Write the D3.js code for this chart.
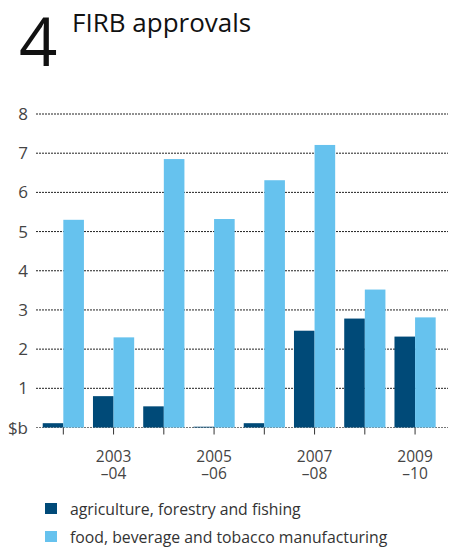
<!DOCTYPE html>
<html>
<head>
<meta charset="utf-8">
<script src="https://cdn.jsdelivr.net/npm/d3@7"></script>
<style>
  body { margin: 0; background: #fff; }
  svg { font-family: "Open Sans", "Noto Sans", sans-serif; }
</style>
</head>
<body>
<div class="chart"></div>
<script>
const periods = ["2002–03","2003–04","2004–05","2005–06","2006–07","2007–08","2008–09","2009–10"]
const seriesNames = ["agriculture, forestry and fishing","food, beverage and tobacco manufacturing"]
const agriculture = [0.11, 0.8, 0.54, 0.02, 0.11, 2.47, 2.78, 2.32]
const food = [5.3, 2.3, 6.85, 5.32, 6.31, 7.21, 3.52, 2.81]
const yTicks = [0,1,2,3,4,5,6,7,8]
const labelledPeriods = ["2003–04","2005–06","2007–08","2009–10"]
const colors = ["#004a78","#66c2ee"]

const w = 449, h = 549
const svg = d3.select(".chart").append("svg")
  .attr("width", w).attr("height", h)

// title
svg.append("text").attr("x", 19).attr("y", 66)
  .attr("font-size", 67).attr("fill", "#111")
  .text("4")
svg.append("text").attr("x", 72).attr("y", 32)
  .attr("font-size", 26).attr("fill", "#111")
  .text("FIRB approvals")

const xScale = d3.scaleBand().domain(periods).range([38.2, 440.2]).paddingInner(0.18).paddingOuter(0.09)
const xInner = d3.scaleBand().domain([0,1]).range([0, xScale.bandwidth()])
const yScale = d3.scaleLinear().domain([0,8]).range([427.5, 114])

// gridlines
svg.append("g").selectAll("line")
  .data(yTicks)
  .enter().append("line")
  .attr("x1", 36).attr("x2", 448)
  .attr("y1", d => yScale(d)).attr("y2", d => yScale(d))
  .attr("stroke", d => d === 0 ? "#777" : "#222")
  .attr("stroke-width", 1)
  .attr("stroke-dasharray", "2,1")

// y labels
svg.append("g").selectAll("text")
  .data(yTicks)
  .enter().append("text")
  .attr("x", 28).attr("y", d => yScale(d) + 6)
  .attr("text-anchor", "end")
  .attr("font-size", 17).attr("fill", "#444")
  .text(d => d === 0 ? "$b" : d)

// bars
const groups = svg.append("g").selectAll("g")
  .data(periods)
  .enter().append("g")
  .attr("transform", d => `translate(${xScale(d)},0)`)

groups.selectAll("rect")
  .data((d,i) => [agriculture[i], food[i]])
  .enter().append("rect")
  .attr("x", (d,j) => xInner(j))
  .attr("width", xInner.bandwidth())
  .attr("y", d => yScale(d))
  .attr("height", d => yScale(0) - yScale(d))
  .attr("fill", (d,j) => colors[j])

// x axis ticks
const xAxis = d3.axisBottom(xScale).tickSize(7).tickFormat("")
const gx = svg.append("g")
  .attr("transform", `translate(0,${yScale(0)})`)
  .call(xAxis)
gx.select(".domain").remove()
gx.selectAll(".tick line").attr("stroke", "#333")

// x labels, two lines
const xl = svg.append("g").selectAll("g")
  .data(labelledPeriods)
  .enter().append("g")
  .attr("transform", d => `translate(${xScale(d) + xScale.bandwidth()/2},0)`)
xl.append("text").attr("y", 462)
  .attr("text-anchor", "middle").attr("font-size", 15.5).attr("fill", "#444")
  .text(d => d.split("–")[0])
xl.append("text").attr("y", 479)
  .attr("text-anchor", "middle").attr("font-size", 15.5).attr("fill", "#444")
  .text(d => "–" + d.split("–")[1])

// legend
const legend = svg.append("g").selectAll("g")
  .data(seriesNames)
  .enter().append("g")
  .attr("transform", (d,i) => `translate(45,${503 + i*28})`)
legend.append("rect").attr("width", 12).attr("height", 11)
  .attr("fill", (d,i) => colors[i])
legend.append("text").attr("x", 25).attr("y", 12)
  .attr("font-size", 15.8).attr("fill", "#333")
  .text(d => d)
</script>
</body>
</html>
